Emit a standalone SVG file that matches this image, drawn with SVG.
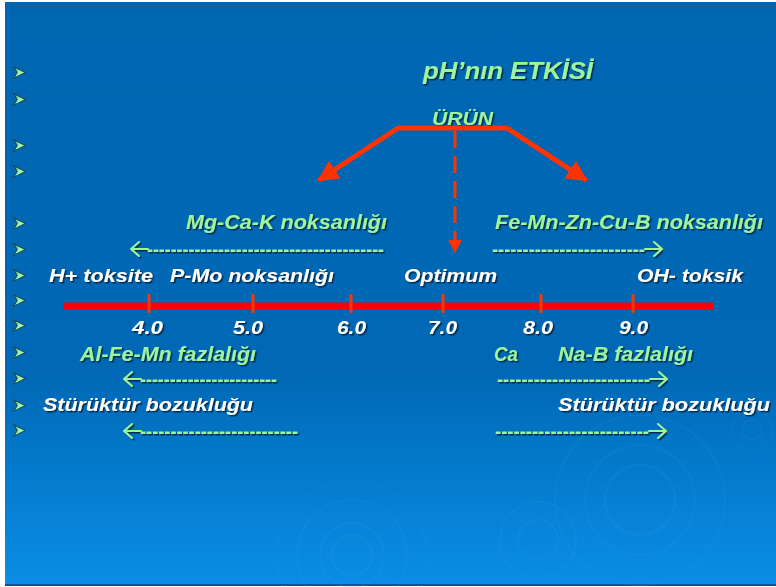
<svg xmlns="http://www.w3.org/2000/svg" width="776" height="587" viewBox="0 0 776 587">
<defs>
<linearGradient id="bg" x1="0" y1="0" x2="0" y2="1">
<stop offset="0" stop-color="#0066b2"/>
<stop offset="0.64" stop-color="#0068b5"/>
<stop offset="0.78" stop-color="#0378c9"/>
<stop offset="1" stop-color="#0a8de5"/>
</linearGradient>
<linearGradient id="bul" x1="0" y1="0" x2="1" y2="1">
<stop offset="0" stop-color="#4a9a80"/>
<stop offset="0.45" stop-color="#9af5b0"/>
<stop offset="1" stop-color="#d0ffb8"/>
</linearGradient>
<filter id="sh" x="-5%" y="-20%" width="110%" height="150%">
<feDropShadow dx="1.5" dy="1.5" stdDeviation="0.4" flood-color="#002244" flood-opacity="0.9"/>
</filter>
<marker id="ah" viewBox="0 0 10 10" refX="9" refY="5" markerWidth="4.2" markerHeight="4.2" orient="auto" markerUnits="strokeWidth">
<path d="M0,0 L10,5 L0,10 Z" fill="#ff3300"/>
</marker>
<marker id="ahd" viewBox="0 0 10 10" refX="9" refY="5" markerWidth="4.5" markerHeight="4.5" orient="auto" markerUnits="strokeWidth">
<path d="M0,0 L10,5 L0,10 Z" fill="#ff3300"/>
</marker>
<symbol id="bullet" viewBox="0 0 12 12" width="13" height="13">
<path d="M0.8,0.8 L11.2,6 L0.8,11.2 L4,6 Z" fill="url(#bul)" stroke="#1d3d35" stroke-width="0.9" stroke-linejoin="round"/>
</symbol>
<path id="la" d="M8,-7 L0,0 L8,7 M0,0 L17,0"/>
<path id="ra" d="M9,-7 L17,0 L9,7 M17,0 L0,0"/>
</defs>
<style>
.t{font-family:"Liberation Sans",Arial,sans-serif;font-weight:bold;font-style:italic;filter:url(#sh)}
.g{fill:#9cf59c;font-size:20px}
.w{fill:#ffffff;font-size:19px}
.ar{font-family:"Liberation Sans",Arial,sans-serif;font-weight:bold;font-size:21px;fill:#9cf59c;filter:url(#sh)}
.arw{fill:none;stroke:#9cf59c;stroke-width:2;stroke-linecap:round;stroke-linejoin:round;filter:url(#sh)}
.red{stroke:#ff3300;fill:none;stroke-linecap:butt;stroke-linejoin:round}
.tick{stroke:#ff3300;stroke-width:3}
.rip{fill:none;stroke:#3aa0ee;stroke-opacity:0.13}
</style>
<rect width="776" height="587" fill="#ffffff"/>
<rect x="5" y="2" width="771" height="582" fill="url(#bg)"/>
<rect x="5" y="584" width="771" height="2" fill="#1d4d8c"/>
<g id="ripples">
<circle class="rip" cx="352" cy="555" r="20" stroke-width="3"/>
<circle class="rip" cx="352" cy="555" r="32" stroke-width="2"/>
<circle class="rip" cx="352" cy="555" r="55" stroke-width="1.5"/>
<circle class="rip" cx="352" cy="555" r="75" stroke-width="1"/>
<circle class="rip" cx="538" cy="540" r="20" stroke-width="2"/>
<circle class="rip" cx="538" cy="540" r="38" stroke-width="2"/>
<circle class="rip" cx="640" cy="500" r="35" stroke-width="2.5"/>
<circle class="rip" cx="640" cy="500" r="55" stroke-width="2"/>
<circle class="rip" cx="640" cy="500" r="85" stroke-width="1.5"/>
<circle class="rip" cx="752" cy="430" r="10" stroke-width="1.5"/>
<circle class="rip" cx="752" cy="430" r="20" stroke-width="1"/>
</g>
<g id="bullets">
<use href="#bullet" x="13" y="66"/>
<use href="#bullet" x="13" y="93"/>
<use href="#bullet" x="13" y="139"/>
<use href="#bullet" x="13" y="165"/>
<use href="#bullet" x="13" y="217"/>
<use href="#bullet" x="13" y="243"/>
<use href="#bullet" x="13" y="269"/>
<use href="#bullet" x="13" y="294"/>
<use href="#bullet" x="13" y="319"/>
<use href="#bullet" x="13" y="346"/>
<use href="#bullet" x="13" y="372"/>
<use href="#bullet" x="13" y="399"/>
<use href="#bullet" x="13" y="424"/>
</g>
<g id="title">
<text class="t g" x="423" y="79" style="font-size:23px" textLength="170" lengthAdjust="spacingAndGlyphs">pH’nın ETKİSİ</text>
</g>
<g id="urun">
<text class="t g" x="432" y="125" style="font-size:18px" textLength="61" lengthAdjust="spacingAndGlyphs">ÜRÜN</text>
</g>
<g id="connectors">
<path class="red" d="M507,128 L398,128 L319,180" stroke-width="5" marker-end="url(#ah)"/>
<path class="red" d="M507,128 L586,180" stroke-width="5" marker-end="url(#ah)"/>
<path class="red" d="M455,131 L455,252" stroke-width="3" stroke-dasharray="17,8" marker-end="url(#ahd)"/>
<line x1="63" y1="306" x2="713" y2="306" stroke="#ff0000" stroke-width="7"/>
<line class="tick" x1="149" y1="294" x2="149" y2="313"/>
<line class="tick" x1="253" y1="294" x2="253" y2="313"/>
<line class="tick" x1="351" y1="294" x2="351" y2="313"/>
<line class="tick" x1="443" y1="294" x2="443" y2="313"/>
<line class="tick" x1="541" y1="294" x2="541" y2="313"/>
<line class="tick" x1="633" y1="294" x2="633" y2="313"/>
</g>
<g id="row-noksan">
<text class="t g" x="186" y="229" textLength="201" lengthAdjust="spacingAndGlyphs">Mg-Ca-K noksanlığı</text>
<text class="t g" x="495" y="229" textLength="268" lengthAdjust="spacingAndGlyphs">Fe-Mn-Zn-Cu-B noksanlığı</text>
<use class="arw" href="#la" x="131" y="249"/>
<text class="ar" x="147" y="255.5" textLength="237" lengthAdjust="spacingAndGlyphs">----------------------------------------</text>
<text class="ar" x="492" y="255.5" textLength="153" lengthAdjust="spacingAndGlyphs">-------------------------</text>
<use class="arw" href="#ra" x="645" y="249"/>
</g>
<g id="row-labels">
<text class="t w" x="49" y="282" textLength="104" lengthAdjust="spacingAndGlyphs">H+ toksite</text>
<text class="t w" x="170" y="282" textLength="164" lengthAdjust="spacingAndGlyphs">P-Mo noksanlığı</text>
<text class="t w" x="404" y="282" textLength="93" lengthAdjust="spacingAndGlyphs">Optimum</text>
<text class="t w" x="637" y="282" textLength="106" lengthAdjust="spacingAndGlyphs">OH- toksik</text>
</g>
<g id="numbers">
<text class="t w" x="132" y="334" textLength="31" lengthAdjust="spacingAndGlyphs">4.0</text>
<text class="t w" x="233" y="334" textLength="30" lengthAdjust="spacingAndGlyphs">5.0</text>
<text class="t w" x="337" y="334" textLength="29" lengthAdjust="spacingAndGlyphs">6.0</text>
<text class="t w" x="428" y="334" textLength="29" lengthAdjust="spacingAndGlyphs">7.0</text>
<text class="t w" x="523" y="334" textLength="30" lengthAdjust="spacingAndGlyphs">8.0</text>
<text class="t w" x="619" y="334" textLength="29" lengthAdjust="spacingAndGlyphs">9.0</text>
</g>
<g id="row-fazla">
<text class="t g" x="80" y="361" textLength="176" lengthAdjust="spacingAndGlyphs">Al-Fe-Mn fazlalığı</text>
<text class="t g" x="494" y="361" textLength="24" lengthAdjust="spacingAndGlyphs">Ca</text>
<text class="t g" x="558" y="361" textLength="135" lengthAdjust="spacingAndGlyphs">Na-B fazlalığı</text>
<use class="arw" href="#la" x="124" y="379"/>
<text class="ar" x="140" y="385.5" textLength="137" lengthAdjust="spacingAndGlyphs">-----------------------</text>
<text class="ar" x="497" y="385.5" textLength="153" lengthAdjust="spacingAndGlyphs">-------------------------</text>
<use class="arw" href="#ra" x="650" y="379"/>
</g>
<g id="row-struktur">
<text class="t w" x="43" y="411" textLength="210" lengthAdjust="spacingAndGlyphs">Stürüktür bozukluğu</text>
<text class="t w" x="558" y="411" textLength="212" lengthAdjust="spacingAndGlyphs">Stürüktür bozukluğu</text>
<use class="arw" href="#la" x="124" y="431"/>
<text class="ar" x="140" y="437.5" textLength="158" lengthAdjust="spacingAndGlyphs">--------------------------</text>
<text class="ar" x="495" y="437.5" textLength="154" lengthAdjust="spacingAndGlyphs">-------------------------</text>
<use class="arw" href="#ra" x="649" y="431"/>
</g>
</svg>
